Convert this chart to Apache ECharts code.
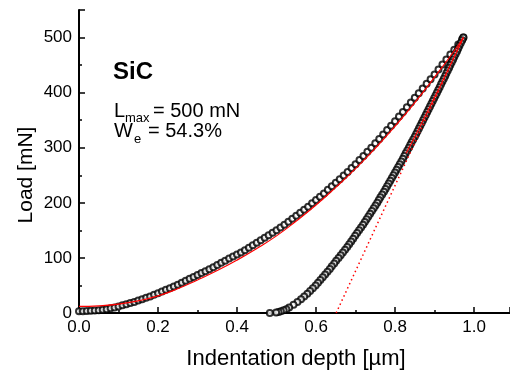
<!DOCTYPE html>
<html>
<head>
<meta charset="utf-8">
<script src="https://cdn.jsdelivr.net/npm/echarts@6/dist/echarts.min.js"></script>
<style>html,body{margin:0;padding:0;background:#fff}#c{width:510px;height:376px}</style>
</head>
<body>
<div id="c"></div>
<script>
// Loading curve (depth in µm, load in mN)
var loadDepth = [0.00,0.01,0.02,0.03,0.04,0.05,0.06,0.07,0.08,0.09,0.10,0.11,0.12,0.13,0.14,0.15,0.16,0.17,0.18,0.19,0.20,0.21,0.22,0.23,0.24,0.25,0.26,0.27,0.28,0.29,0.30,0.31,0.32,0.33,0.34,0.35,0.36,0.37,0.38,0.39,0.40,0.41,0.42,0.43,0.44,0.45,0.46,0.47,0.48,0.49,0.50,0.51,0.52,0.53,0.54,0.55,0.56,0.57,0.58,0.59,0.60,0.61,0.62,0.63,0.64,0.65,0.66,0.67,0.68,0.69,0.70,0.71,0.72,0.73,0.74,0.75,0.76,0.77,0.78,0.79,0.80,0.81,0.82,0.83,0.84,0.85,0.86,0.87,0.88,0.89,0.90,0.91,0.92,0.93,0.94,0.95,0.96,0.97,0.973];
var loadLoad = [3,3,3.5,4,4.5,5,6,7,8.5,10,12,14,16,18,20,22.5,25,27.5,30,33,36,39,42,45,48,51.5,55,58.5,62,65.5,69,72.5,76,79.5,83,87,91,95,99,102.5,106,110,114,118.5,123,127.5,132,136.5,141,145.5,150,155,160,165.5,171,176.5,182,187.5,193,199,205,211,217,223.5,230,236.5,243,249.5,256,263,270,277.5,285,292.5,300,308,316,324,332,340,348,356.5,365,373.5,382,390.5,399,407.5,416,424.5,433,442,451,460,469,478,487.5,497,500];
// Unloading curve
var unloadLoad = [500,495,490,485,480,475,470,465,460,455,450,445,440,435,430,425,420,415,410,405,400,395,390,385,380,375,370,365,360,355,350,345,340,335,330,325,320,315,310,305,300,295,290,285,280,275,270,265,260,255,250,245,240,235,230,225,220,215,210,205,200,195,190,185,180,175,170,165,160,155,150,145,140,135,130,125,120,115,110,105,100,95,90,85,80,75,70,65,60,55,50,45,40,35,30,25,20,15,10,7,5,3,2,1,0];
var unloadDepth = [0.973,0.970,0.9665,0.963,0.960,0.957,0.9535,0.950,0.947,0.9435,0.940,0.937,0.9335,0.930,0.927,0.9235,0.920,0.9165,0.913,0.9095,0.906,0.9025,0.899,0.8955,0.892,0.8885,0.885,0.8815,0.878,0.8745,0.871,0.8675,0.864,0.8605,0.857,0.8535,0.850,0.846,0.842,0.8385,0.835,0.831,0.827,0.8235,0.820,0.816,0.812,0.808,0.804,0.800,0.796,0.792,0.788,0.784,0.780,0.776,0.772,0.7675,0.763,0.759,0.755,0.7505,0.746,0.7415,0.737,0.7325,0.728,0.7235,0.719,0.714,0.709,0.704,0.699,0.694,0.689,0.684,0.679,0.6735,0.668,0.6625,0.657,0.651,0.646,0.640,0.635,0.629,0.623,0.617,0.611,0.605,0.599,0.592,0.585,0.578,0.570,0.562,0.553,0.543,0.532,0.525,0.518,0.511,0.505,0.499,0.483];
// Fit of loading curve (red solid)
var fitLoadDepth = [0,0.05,0.1,0.15,0.2,0.25,0.3,0.35,0.4,0.45,0.5,0.55,0.6,0.65,0.7,0.75,0.8,0.85,0.9,0.95,0.973];
var fitLoadLoad = [12,13,16,22,31,44,60,77,96,117,140,167,196,228,262,299,339,382,428,476,500];
// Fit of unloading curve (red solid, upper part)
var fitUnDepth = [0.828,0.85,0.878,0.906,0.94,0.973];
var fitUnLoad = [290,320,360,400,450,500];
// Tangent at max load (red dotted)
var tanDepth = [0.651,0.973];
var tanLoad = [0,500];
// Ticks
var xTicks = [0.0,0.2,0.4,0.6,0.8,1.0];
var yTicks = [0,100,200,300,400,500];

function pairs(a,b){return a.map(function(v,i){return [v,b[i]];});}

var FONT = 'Liberation Sans';
var chart = echarts.init(document.getElementById('c'));
chart.setOption({
  animation:false,
  backgroundColor:'#fff',
  grid:{left:79,right:0,top:10,bottom:63,containLabel:false},
  xAxis:{
    type:'value',min:0,max:1.091,interval:0.2,
    axisLine:{show:true,onZero:false,lineStyle:{color:'#000',width:2}},
    axisTick:{show:true,inside:true,length:6,lineStyle:{color:'#000',width:1.5}},
    minorTick:{show:true,splitNumber:2,length:3,lineStyle:{color:'#000',width:1.5}},
    splitLine:{show:false},
    axisLabel:{color:'#000',fontFamily:FONT,fontSize:17,margin:6,showMaxLabel:false,
      formatter:function(v){return xTicks.some(function(t){return Math.abs(t-v)<1e-6;})?v.toFixed(1):'';}}
  },
  yAxis:{
    type:'value',min:0,max:550,interval:100,
    axisLine:{show:true,onZero:false,lineStyle:{color:'#000',width:2}},
    axisTick:{show:true,inside:true,length:6,lineStyle:{color:'#000',width:1.5}},
    minorTick:{show:true,splitNumber:2,length:3,lineStyle:{color:'#000',width:1.5}},
    splitLine:{show:false},
    axisLabel:{color:'#000',fontFamily:FONT,fontSize:17,margin:7,showMaxLabel:false,
      formatter:function(v){return yTicks.indexOf(v)>=0?String(v):'';}}
  },
  graphic:[
    {type:'text',left:113,top:60,style:{text:'SiC',font:'bold 24px '+FONT,fill:'#000'}},
    {type:'text',left:114,top:101,style:{text:'L',font:'20px '+FONT,fill:'#000'}},
    {type:'text',left:125,top:112,style:{text:'max',font:'13px '+FONT,fill:'#000'}},
    {type:'text',left:153,top:101,style:{text:'= 500 mN',font:'20px '+FONT,fill:'#000'}},
    {type:'text',left:114,top:121,style:{text:'W',font:'20px '+FONT,fill:'#000'}},
    {type:'text',left:134,top:133,style:{text:'e',font:'13px '+FONT,fill:'#000'}},
    {type:'text',left:148,top:121,style:{text:'= 54.3%',font:'20px '+FONT,fill:'#000'}},
    {type:'text',x:296,y:359,style:{text:'Indentation depth [\u00b5m]',font:'22px '+FONT,fill:'#000',textAlign:'center',textVerticalAlign:'middle'}},
    {type:'text',x:26,y:175,rotation:Math.PI/2,style:{text:'Load [mN]',font:'21px '+FONT,fill:'#000',textAlign:'center',textVerticalAlign:'middle'}}
  ],
  series:[
    {type:'scatter',data:pairs(loadDepth,loadLoad),symbol:'emptyCircle',symbolSize:6,
      itemStyle:{color:'#000',borderColor:'#000',borderWidth:1},z:2},
    {type:'scatter',data:pairs(unloadDepth,unloadLoad),symbol:'emptyCircle',symbolSize:6,
      itemStyle:{color:'#000',borderColor:'#000',borderWidth:1},z:2},
    {type:'line',data:pairs(fitLoadDepth,fitLoadLoad),smooth:true,showSymbol:false,
      lineStyle:{color:'#ff0000',width:1.2},z:3},
    {type:'line',data:pairs(fitUnDepth,fitUnLoad),smooth:true,showSymbol:false,
      lineStyle:{color:'#ff0000',width:1.2},z:3},
    {type:'line',data:pairs(tanDepth,tanLoad),showSymbol:false,
      lineStyle:{color:'#ff0000',width:1.5,type:[1.5,3]},z:3}
  ]
});
</script>
</body>
</html>
